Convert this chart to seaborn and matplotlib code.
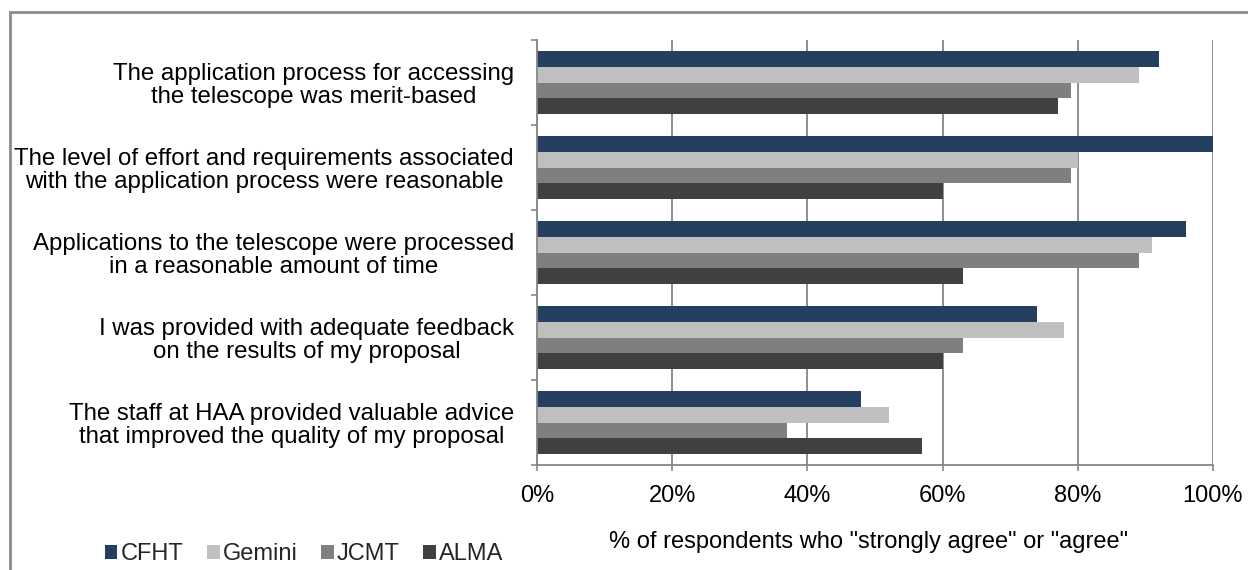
import matplotlib
matplotlib.use("Agg")
import matplotlib.pyplot as plt
import seaborn as sns
import pandas as pd
from matplotlib.patches import Rectangle
from matplotlib.ticker import FixedLocator

categories = [
    "The application process for accessing\nthe telescope was merit-based",
    "The level of effort and requirements associated\nwith the application process were reasonable",
    "Applications to the telescope were processed\nin a reasonable amount of time",
    "I was provided with adequate feedback\non the results of my proposal",
    "The staff at HAA provided valuable advice\nthat improved the quality of my proposal",
]
series = ["CFHT", "Gemini", "JCMT", "ALMA"]
cfht = [92, 100, 96, 74, 48]
gemini = [89, 80, 91, 78, 52]
jcmt = [79, 79, 89, 63, 37]
alma = [77, 60, 63, 60, 57]
colors = ["#243F60", "#BFBFBF", "#7F7F7F", "#404040"]
x_ticks = [0, 20, 40, 60, 80, 100]
x_label = '% of respondents who "strongly agree" or "agree"'

rows = []
for s, vals in zip(series, [cfht, gemini, jcmt, alma]):
    for c, v in zip(categories, vals):
        rows.append({"category": c, "series": s, "value": v})
df = pd.DataFrame(rows)

sns.set_theme(style="white")
plt.rcParams["font.family"] = ["Liberation Sans", "DejaVu Sans"]
FS = 17

fig = plt.figure(figsize=(12.48, 5.70), dpi=100)
W, H = 1248, 570
ax = fig.add_axes([537 / W, 1 - 465 / H, (1213 - 537) / W, (465 - 40) / H])

sns.barplot(data=df, y="category", x="value", hue="series", order=categories,
            hue_order=series, palette=colors, orient="h", width=0.75,
            ax=ax, legend=False, saturation=1, edgecolor="none")

ax.set_xlim(0, 100)
ax.set_ylim(4.5, -0.5)
ax.set_xticks(x_ticks)
ax.set_xticklabels([f"{t}%" for t in x_ticks], fontsize=FS, color="black")
ax.xaxis.grid(True, color="#868686", linewidth=1.3)
ax.yaxis.grid(False)
ax.set_axisbelow(True)

ax.yaxis.set_major_locator(FixedLocator([i - 0.5 for i in range(len(categories) + 1)]))
ax.yaxis.set_minor_locator(FixedLocator(list(range(len(categories)))))
ax.set_yticklabels([""] * (len(categories) + 1))
ax.set_yticklabels(categories, minor=True, fontsize=17.3, color="black")
for t in ax.get_yticklabels(minor=True):
    t.set_multialignment("center")
    t.set_linespacing(1.08)
ax.tick_params(axis="y", which="major", length=4.3, width=1.2, color="#868686", left=True)
ax.tick_params(axis="y", which="minor", length=0, pad=16.5)
ax.tick_params(axis="x", which="major", length=4.3, width=1.2, color="#868686", bottom=True, pad=10)

for side in ["top", "right"]:
    ax.spines[side].set_visible(False)
for side in ["left", "bottom"]:
    ax.spines[side].set_color("#868686")
    ax.spines[side].set_linewidth(1.3)

ax.set_ylabel("")
ax.set_xlabel(x_label, fontsize=FS, color="black")
ax.xaxis.set_label_coords(0.49, -0.155)

handles = [Rectangle((0, 0), 1, 1, facecolor=c, edgecolor="none") for c in colors]
fig.legend(handles, series, loc="center", bbox_to_anchor=(304 / W, 1 - 554 / H),
           ncol=4, frameon=False, fontsize=FS, handlelength=0.55, handleheight=0.55,
           handletextpad=0.12, columnspacing=1.0, borderpad=0)

frame = Rectangle((10 / W, -0.2), 1.2, 1 - 12 / H + 0.2, transform=fig.transFigure,
                  fill=False, edgecolor="#8C8C8C", linewidth=2, clip_on=False)
fig.patches.append(frame)

fig.savefig("out.png", dpi=100)
